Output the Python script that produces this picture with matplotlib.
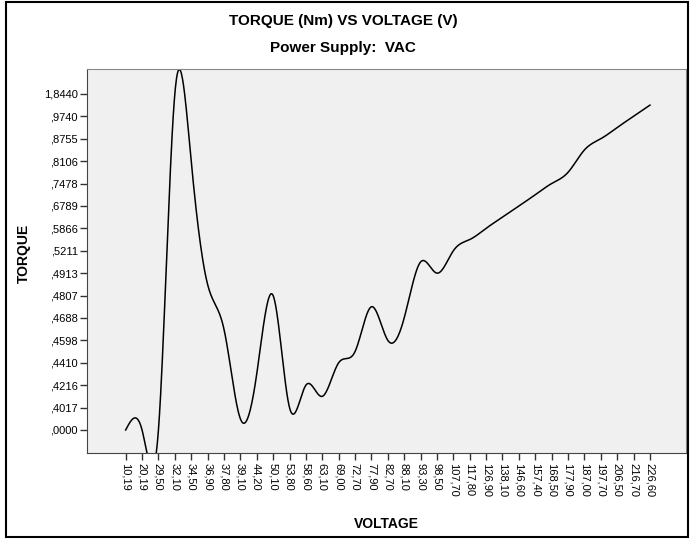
import numpy as np
import matplotlib
matplotlib.use('Agg')
import matplotlib.pyplot as plt
from matplotlib.patches import Rectangle

plt.rcParams['font.family'] = ['Liberation Sans', 'DejaVu Sans']

# x categories (voltage)
voltage_labels = ['10,19', '20,19', '29,50', '32,10', '34,50', '36,90', '37,80',
                  '39,10', '44,20', '50,10', '53,80', '58,60', '63,10', '69,00',
                  '72,70', '77,90', '82,70', '88,10', '93,30', '98,50', '107,70',
                  '117,80', '126,90', '138,10', '146,60', '157,40', '168,50',
                  '177,90', '187,00', '197,70', '206,50', '216,70', '226,60']

# torque per voltage (unlabelled categories estimated)
torque = [0.0, 0.0, 0.0, 1.8440, 0.8106, 0.4860, 0.4640,
          0.3900, 0.4310, 0.4807, 0.4017, 0.4216, 0.4120, 0.4410,
          0.4500, 0.4750, 0.4598, 0.4688, 0.5050, 0.4913, 0.5211,
          0.5540, 0.5866, 0.6320, 0.6789, 0.7130, 0.7478,
          0.7790, 0.8430, 0.8755, 0.9250, 0.9740, 1.0200]

# labelled y ticks
tick_values = [0.0, 0.4017, 0.4216, 0.4410, 0.4598, 0.4688, 0.4807, 0.4913,
               0.5211, 0.5866, 0.6789, 0.7478, 0.8106, 0.8755, 0.9740, 1.8440]
tick_labels = [',0000', ',4017', ',4216', ',4410', ',4598', ',4688', ',4807', ',4913',
               ',5211', ',5866', ',6789', ',7478', ',8106', ',8755', ',9740', '1,8440']


def natural_spline(x, y, steps=30):
    n = len(x)
    h = np.diff(x)
    A = np.zeros((n, n))
    b = np.zeros(n)
    A[0, 0] = 1
    A[-1, -1] = 1
    for i in range(1, n - 1):
        A[i, i - 1] = h[i - 1]
        A[i, i] = 2 * (h[i - 1] + h[i])
        A[i, i + 1] = h[i]
        b[i] = 6 * ((y[i + 1] - y[i]) / h[i] - (y[i] - y[i - 1]) / h[i - 1])
    M = np.linalg.solve(A, b)
    xs, ys = [], []
    for i in range(n - 1):
        t = np.linspace(x[i], x[i + 1], steps, endpoint=False)
        a = x[i + 1] - t
        c = t - x[i]
        s = (M[i] * a ** 3 + M[i + 1] * c ** 3) / (6 * h[i]) \
            + (y[i] / h[i] - M[i] * h[i] / 6) * a \
            + (y[i + 1] / h[i] - M[i + 1] * h[i] / 6) * c
        xs.append(t)
        ys.append(s)
    xs.append([x[-1]])
    ys.append([y[-1]])
    return np.concatenate(xs), np.concatenate(ys)


# categorical positions
levels = sorted(set(torque))
x_pos = np.arange(len(voltage_labels), dtype=float)
y_pos = np.array([levels.index(t) for t in torque], dtype=float)
tick_pos = [levels.index(v) for v in tick_values]

fig = plt.figure(figsize=(6.9, 5.4), dpi=100)
ax = fig.add_axes([0.1268, 0.1606, 0.8674, 0.7111])
ax.set_facecolor('#f0f0f0')

sx, sy = natural_spline(x_pos, y_pos)
ax.plot(sx, sy, color='black', lw=1.1)

ax.set_xlim(-2.33, 34.2)
ax.set_ylim(-2.08, 32.2)

ax.set_xticks(x_pos)
ax.set_xticklabels(voltage_labels, rotation=-90, fontsize=8)
ax.set_yticks(tick_pos)
ax.set_yticklabels(tick_labels, fontsize=8)
ax.tick_params(axis='both', length=5, width=1, color='#333333', pad=2)

for side in ['left', 'bottom']:
    ax.spines[side].set_color('#444444')
for side in ['top', 'right']:
    ax.spines[side].set_color('#888888')

ax.set_xlabel('VOLTAGE', fontsize=10, fontweight='bold', labelpad=14)
ax.set_ylabel('TORQUE', fontsize=10, fontweight='bold')
ax.yaxis.set_label_coords(-0.094, 0.52)

fig.text(0.497, 0.961, 'TORQUE (Nm) VS VOLTAGE (V)', ha='center', va='center',
         fontsize=11, fontweight='bold')
fig.text(0.497, 0.912, 'Power Supply:  VAC', ha='center', va='center',
         fontsize=11, fontweight='bold')

# outer frame
fig.patches.append(Rectangle((6 / 690, 3 / 540), 682 / 690, 535 / 540,
                             transform=fig.transFigure, fill=False,
                             ec='black', lw=1.5))

fig.savefig('out.png', dpi=100)
